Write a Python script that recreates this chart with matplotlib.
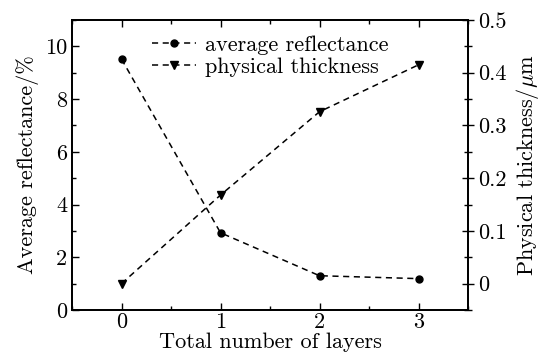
import numpy as np
import matplotlib
matplotlib.use("Agg")
import matplotlib.pyplot as plt
from matplotlib.ticker import MultipleLocator

plt.rcParams["font.family"] = "serif"
plt.rcParams["font.serif"] = ["cmr10"]
plt.rcParams["mathtext.fontset"] = "cm"
plt.rcParams["axes.unicode_minus"] = False
plt.rcParams["axes.formatter.use_mathtext"] = False

layers = [0, 1, 2, 3]
reflectance = [9.52, 2.93, 1.30, 1.19]
thickness = [0.0, 0.168, 0.326, 0.415]

FS = 16

fig = plt.figure(figsize=(5.42, 3.56), dpi=100)
ax = fig.add_axes([72 / 542, 1 - 310 / 356, 396 / 542, 290 / 356])
ax2 = ax.twinx()

l1, = ax.plot(layers, reflectance, "k--", marker="o", markersize=5,
              linewidth=1.1, dashes=(4, 3), label="average reflectance")
l2, = ax2.plot(layers, thickness, "k--", marker="v", markersize=6,
               linewidth=1.1, dashes=(4, 3), label="physical thickness")

ax.set_xlim(-0.5, 3.5)
ax.set_ylim(0, 11)
ax2.set_ylim(-0.05, 0.5)

ax.xaxis.set_major_locator(MultipleLocator(1))
ax.xaxis.set_minor_locator(MultipleLocator(0.5))
ax.yaxis.set_major_locator(MultipleLocator(2))
ax.yaxis.set_minor_locator(MultipleLocator(1))
ax2.yaxis.set_major_locator(MultipleLocator(0.1))
ax2.yaxis.set_minor_locator(MultipleLocator(0.05))
ax2.yaxis.set_major_formatter(plt.FuncFormatter(lambda v, p: "0" if abs(v) < 1e-9 else f"{v:.1f}"))

ax.tick_params(axis="x", which="both", direction="in", top=True, labelsize=FS)
ax.tick_params(axis="y", which="both", direction="in", labelsize=FS)
ax.tick_params(which="major", length=5, width=1)
ax.tick_params(which="minor", length=3, width=1)
ax.tick_params(axis="x", pad=2)
ax2.tick_params(axis="y", which="both", direction="inout", labelsize=FS)
ax2.tick_params(which="major", length=8, width=1)
ax2.tick_params(which="minor", length=6, width=1)

for a in (ax, ax2):
    for s in a.spines.values():
        s.set_linewidth(1.3)

ax.set_xlabel("Total number of layers", fontsize=FS, labelpad=0)
ax.set_ylabel("Average reflectance/%", fontsize=FS, labelpad=4)
ax2.set_ylabel(r"Physical thickness/$\mathrm{\mu}$m", fontsize=FS, labelpad=5)

ax.legend(handles=[l1, l2], loc="upper center", bbox_to_anchor=(0.5, 1.0),
          frameon=False, fontsize=FS, handlelength=2.0, handletextpad=0.4,
          labelspacing=0.1, borderaxespad=0.3)

fig.savefig("out.png", dpi=100)
